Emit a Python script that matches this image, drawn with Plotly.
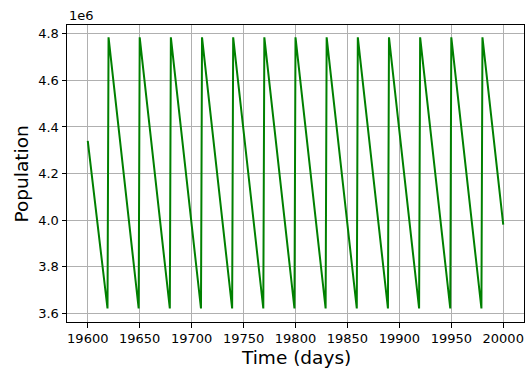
import plotly.graph_objects as go

# Vertices of the sawtooth (day, population in millions)
days = [19600,
        19619, 19620, 19649, 19650, 19679, 19680, 19709, 19710, 19739, 19740,
        19769, 19770, 19799, 19800, 19829, 19830, 19859, 19860, 19889, 19890,
        19919, 19920, 19949, 19950, 19979, 19980, 20000]
population_m = [4.34,
                3.62, 4.785, 3.62, 4.785, 3.62, 4.785, 3.62, 4.785, 3.62, 4.785,
                3.62, 4.785, 3.62, 4.785, 3.62, 4.785, 3.62, 4.785, 3.62, 4.785,
                3.62, 4.785, 3.62, 4.785, 3.62, 4.785, 3.98]
x_ticks = [19600, 19650, 19700, 19750, 19800, 19850, 19900, 19950, 20000]
y_ticks = [3.6, 3.8, 4.0, 4.2, 4.4, 4.6, 4.8]

FONT = "DejaVu Sans"

fig = go.Figure()
fig.add_trace(go.Scatter(x=days, y=population_m, mode="lines",
                         line=dict(color="#008000", width=2), hoverinfo="skip"))

axis_common = dict(showgrid=True, gridcolor="#b0b0b0", gridwidth=1,
                   showline=True, linecolor="black", linewidth=1, mirror=True,
                   ticks="outside", ticklen=4.5, tickwidth=1, tickcolor="black",
                   tickfont=dict(family=FONT, size=13, color="black"),
                   zeroline=False)

fig.update_layout(
    width=528, height=372,
    margin=dict(l=67, r=4, t=25, b=50),
    paper_bgcolor="white", plot_bgcolor="white",
    showlegend=False,
    xaxis=dict(range=[19580, 20020], tickvals=x_ticks, tickformat="d", **axis_common),
    yaxis=dict(range=[3.562, 4.838], tickvals=y_ticks, tickformat=".1f", **axis_common),
    annotations=[
        dict(text="Time (days)", xref="paper", yref="paper", x=0.5, y=-0.121,
             xanchor="center", yanchor="middle", showarrow=False,
             font=dict(family=FONT, size=18.5, color="black")),
        dict(text="Population", xref="paper", yref="paper", x=-0.0985, y=0.5,
             xanchor="center", yanchor="middle", textangle=-90, showarrow=False,
             font=dict(family=FONT, size=18.5, color="black")),
        dict(text="1e6", xref="paper", yref="paper", x=0, y=1.0,
             xanchor="left", yanchor="bottom", showarrow=False, yshift=0,
             font=dict(family=FONT, size=13, color="black")),
    ],
)

fig.write_html("out.html")
